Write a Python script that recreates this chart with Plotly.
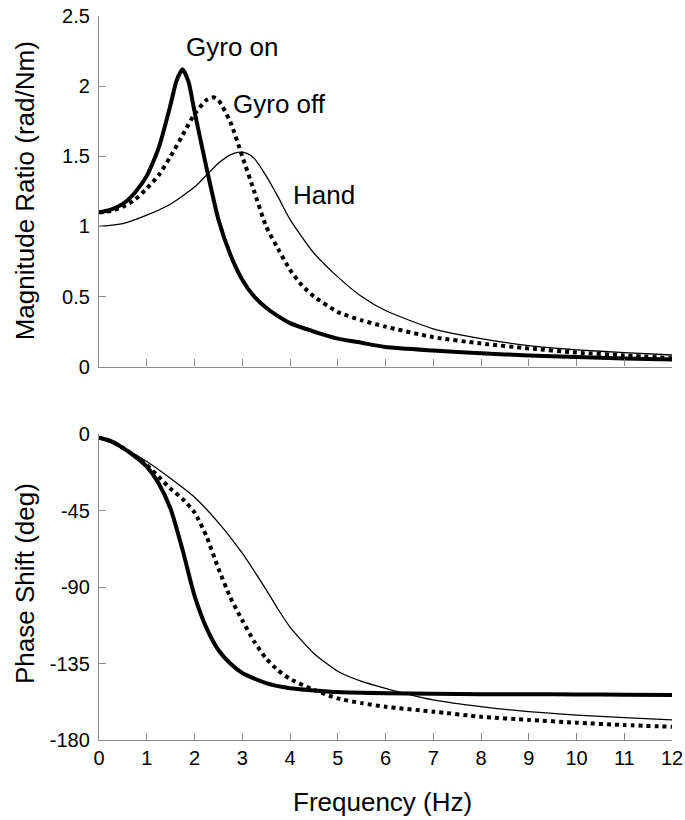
import plotly.graph_objects as go

# ---------------- data ----------------
freq_on = [0, 0.25, 0.5, 0.75, 1, 1.25, 1.5, 1.625, 1.75, 1.875, 2, 2.25, 2.5, 2.75,
           3, 3.25, 3.5, 3.75, 4, 4.5, 5, 5.5, 6, 7, 8, 9, 10, 11, 12]
mag_on = [1.10, 1.12, 1.16, 1.24, 1.36, 1.56, 1.87, 2.04, 2.12, 2.03, 1.82, 1.42, 1.05, 0.80,
          0.62, 0.50, 0.42, 0.36, 0.31, 0.25, 0.20, 0.17, 0.14, 0.115, 0.095, 0.08, 0.068, 0.058, 0.05]

freq_off = [0, 0.25, 0.5, 0.75, 1, 1.25, 1.5, 1.75, 2, 2.25, 2.4, 2.5, 2.75, 3, 3.25, 3.5,
            3.75, 4, 4.25, 4.5, 5, 5.5, 6, 7, 8, 9, 10, 11, 12]
mag_off = [1.10, 1.11, 1.14, 1.19, 1.27, 1.365, 1.50, 1.65, 1.80, 1.90, 1.92, 1.90, 1.745, 1.50,
           1.25, 1.00, 0.84, 0.69, 0.58, 0.50, 0.39, 0.33, 0.285, 0.21, 0.165, 0.13, 0.10, 0.08, 0.06]

freq_hand = [0, 0.5, 1, 1.5, 2, 2.25, 2.5, 2.75, 2.95, 3.1, 3.25, 3.5, 3.75, 4, 4.5, 5, 5.5,
             6, 7, 8, 9, 10, 11, 12]
mag_hand = [1.00, 1.02, 1.08, 1.16, 1.28, 1.365, 1.45, 1.51, 1.53, 1.52, 1.485, 1.36, 1.21,
            1.05, 0.81, 0.64, 0.50, 0.40, 0.27, 0.20, 0.15, 0.12, 0.10, 0.083]

pfreq_on = [0, 0.25, 0.5, 0.75, 1, 1.25, 1.5, 1.75, 2, 2.25, 2.5, 2.75, 3, 3.5, 4, 4.5, 5,
            6, 7, 8, 9, 10, 11, 12]
phase_on = [-2, -4, -8, -13, -19, -29, -44, -68, -95, -114, -127, -135, -140.5, -146.5,
            -149.5, -150.8, -151.8, -152.5, -152.8, -153, -153, -153.2, -153.3, -153.5]

pfreq_off = [0, 0.25, 0.5, 0.75, 1, 1.25, 1.5, 1.75, 2, 2.25, 2.5, 2.75, 3, 3.25, 3.5, 3.75,
             4, 4.5, 5, 5.5, 6, 7, 8, 9, 10, 11, 12]
phase_off = [-2, -4, -8, -12.5, -18, -25, -32, -38, -46, -60, -79, -96, -109.5, -122, -132,
             -139, -144, -150.5, -155.5, -158.3, -160.4, -163.3, -166.3, -168.2, -169.8,
             -171.2, -172.2]

pfreq_hand = [0, 0.5, 1, 1.5, 2, 2.5, 3, 3.25, 3.5, 3.75, 4, 4.5, 5, 5.5, 6, 6.5, 7, 8, 9,
              10, 11, 12]
phase_hand = [-2, -8, -16, -26, -37, -52, -70, -80.5, -91.5, -103, -113.5, -129, -139.5, -145.5,
              -149.6, -153.3, -156.4, -160.4, -163.3, -165.3, -166.8, -168.2]

x_ticks = list(range(0, 13))
mag_ticks = [0, 0.5, 1, 1.5, 2, 2.5]
mag_tick_text = ["0", "0.5", "1", "1.5", "2", "2.5"]
phase_ticks = [0, -45, -90, -135, -180]
phase_tick_text = ["0", "-45", "-90", "-135", "-180"]

labels = ["Gyro on", "Gyro off", "Hand"]

# ---------------- figure ----------------
FONT = "Liberation Sans, Arial, sans-serif"
AX_COLOR = "#8a8a8a"

thick = dict(color="black", width=4, shape="spline", smoothing=0.6)
dotted = dict(color="black", width=4, dash="4px,4px", shape="spline", smoothing=0.6)
thin = dict(color="black", width=1.3, shape="spline", smoothing=0.6)

fig = go.Figure()
fig.add_trace(go.Scatter(x=freq_hand, y=mag_hand, mode="lines", line=thin, xaxis="x", yaxis="y"))
fig.add_trace(go.Scatter(x=freq_off, y=mag_off, mode="lines", line=dotted, xaxis="x", yaxis="y"))
fig.add_trace(go.Scatter(x=freq_on, y=mag_on, mode="lines", line=thick, xaxis="x", yaxis="y"))
fig.add_trace(go.Scatter(x=pfreq_hand, y=phase_hand, mode="lines", line=thin, xaxis="x2", yaxis="y2"))
fig.add_trace(go.Scatter(x=pfreq_off, y=phase_off, mode="lines", line=dotted, xaxis="x2", yaxis="y2"))
fig.add_trace(go.Scatter(x=pfreq_on, y=phase_on, mode="lines", line=thick, xaxis="x2", yaxis="y2"))

axis_common = dict(showline=True, linecolor=AX_COLOR, linewidth=1.3, ticks="inside",
                   tickcolor=AX_COLOR, tickwidth=1.3, ticklen=7, showgrid=False,
                   zeroline=False, automargin=False,
                   tickfont=dict(family=FONT, size=20, color="black"))

fig.update_layout(
    width=685, height=820,
    margin=dict(l=99, r=13, t=16, b=80, autoexpand=False),
    paper_bgcolor="white", plot_bgcolor="white",
    showlegend=False,
    font=dict(family=FONT, color="black"),
    xaxis=dict(domain=[0, 1], anchor="y", range=[0, 12], tickvals=x_ticks,
               showticklabels=False, **axis_common),
    yaxis=dict(domain=[0.5157, 1.0], anchor="x", range=[0, 2.5], tickvals=mag_ticks,
               ticktext=mag_tick_text, ticklabelstandoff=4, **axis_common),
    xaxis2=dict(domain=[0, 1], anchor="y2", range=[0, 12], tickvals=x_ticks,
                ticktext=[str(v) for v in x_ticks], **axis_common),
    yaxis2=dict(domain=[0, 0.4222], anchor="x2", range=[-180, 0], tickvals=phase_ticks,
                ticktext=phase_tick_text, ticklabelstandoff=4, **axis_common),
)

ann_font = dict(family=FONT, size=26, color="black")
fig.add_annotation(x=2.80, y=2.277, xref="x", yref="y", text=labels[0], showarrow=False,
                   font=ann_font, xanchor="center", yanchor="middle")
fig.add_annotation(x=3.79, y=1.875, xref="x", yref="y", text=labels[1], showarrow=False,
                   font=ann_font, xanchor="center", yanchor="middle")
fig.add_annotation(x=4.71, y=1.223, xref="x", yref="y", text=labels[2], showarrow=False,
                   font=ann_font, xanchor="center", yanchor="middle")

# axis titles
fig.add_annotation(x=-0.1291, y=0.7579, xref="paper", yref="paper",
                   text="Magnitude Ratio (rad/Nm)", textangle=-90, showarrow=False,
                   font=ann_font, xanchor="center", yanchor="middle")
fig.add_annotation(x=-0.1291, y=0.2155, xref="paper", yref="paper",
                   text="Phase Shift (deg)", textangle=-90, showarrow=False,
                   font=ann_font, xanchor="center", yanchor="middle")
fig.add_annotation(x=0.4956, y=-0.0856, xref="paper", yref="paper",
                   text="Frequency (Hz)", showarrow=False,
                   font=ann_font, xanchor="center", yanchor="middle")

fig.write_html("out.html")
